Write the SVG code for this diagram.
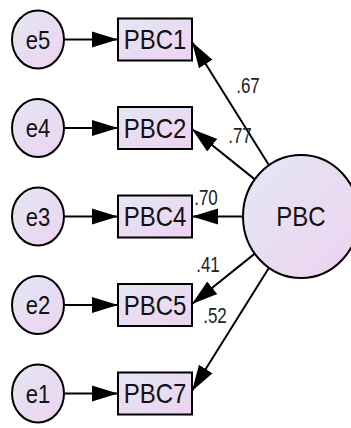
<svg xmlns="http://www.w3.org/2000/svg" width="351" height="428" viewBox="0 0 351 428">
  <defs>
    <linearGradient id="fillGrad" x1="0" y1="0" x2="1" y2="1">
      <stop offset="0" stop-color="#e4e7f4"/>
      <stop offset="1" stop-color="#edd2f0"/>
    </linearGradient>
    <marker id="head" viewBox="0 -9 28 18" markerWidth="28" markerHeight="18" refX="26" refY="0" orient="auto" markerUnits="userSpaceOnUse">
      <path d="M0,-8 L26,0 L0,8 z" fill="#000"/>
    </marker>
    <style>
      .node { fill: url(#fillGrad); stroke: #000; stroke-width: 2; }
      .lbl { font-family: "Liberation Sans", Arial, sans-serif; fill: #111; text-anchor: middle; }
      .big { font-size: 24px; }
      .err { font-size: 22px; }
      .coef { font-size: 17px; fill: #222; }
      .edge { stroke: #000; stroke-width: 2; fill: none; marker-end: url(#head); }
    </style>
  </defs>
  <rect width="351" height="428" fill="#fff"/>

  <!-- connectors: error terms to indicators, factor to indicators -->
  <g id="connectors">
    <line class="edge" x1="64" y1="39.5" x2="118" y2="39.5"/>
    <line class="edge" x1="64" y1="128" x2="118" y2="128"/>
    <line class="edge" x1="64" y1="216.5" x2="118" y2="216.5"/>
    <line class="edge" x1="64" y1="305" x2="118" y2="305"/>
    <line class="edge" x1="64" y1="393.5" x2="118" y2="393.5"/>

    <line class="edge" x1="269" y1="165.2" x2="192" y2="42"/>
    <line class="edge" x1="254.8" y1="179.4" x2="192" y2="129"/>
    <line class="edge" x1="243" y1="216.5" x2="192" y2="216.5"/>
    <line class="edge" x1="254.8" y1="253.6" x2="192" y2="304"/>
    <line class="edge" x1="269" y1="267.8" x2="192" y2="391"/>

    <text class="lbl coef" transform="translate(248,93) scale(1,1.25)">.67</text>
    <text class="lbl coef" transform="translate(240,143) scale(1,1.25)">.77</text>
    <text class="lbl coef" transform="translate(206,205) scale(1,1.25)">.70</text>
    <text class="lbl coef" transform="translate(208,272) scale(1,1.25)">.41</text>
    <text class="lbl coef" transform="translate(215,323) scale(1,1.25)">.52</text>
  </g>

  <!-- error terms -->
  <g id="e5">
    <ellipse class="node" cx="38" cy="39.5" rx="26" ry="29"/>
    <text class="lbl err" transform="translate(38,48.5) scale(1,1.13)">e5</text>
  </g>
  <g id="e4">
    <ellipse class="node" cx="38" cy="128" rx="26" ry="29"/>
    <text class="lbl err" transform="translate(38,137) scale(1,1.13)">e4</text>
  </g>
  <g id="e3">
    <ellipse class="node" cx="38" cy="216.5" rx="26" ry="29"/>
    <text class="lbl err" transform="translate(38,225.5) scale(1,1.13)">e3</text>
  </g>
  <g id="e2">
    <ellipse class="node" cx="38" cy="305" rx="26" ry="29"/>
    <text class="lbl err" transform="translate(38,314) scale(1,1.13)">e2</text>
  </g>
  <g id="e1">
    <ellipse class="node" cx="38" cy="393.5" rx="26" ry="29"/>
    <text class="lbl err" transform="translate(38,402.5) scale(1,1.13)">e1</text>
  </g>

  <!-- observed indicators -->
  <g id="PBC1">
    <rect class="node" x="118" y="18.5" width="74" height="42"/>
    <text class="lbl big" transform="translate(155,49) scale(1,1.13)">PBC1</text>
  </g>
  <g id="PBC2">
    <rect class="node" x="118" y="107" width="74" height="42"/>
    <text class="lbl big" transform="translate(155,137.5) scale(1,1.13)">PBC2</text>
  </g>
  <g id="PBC4">
    <rect class="node" x="118" y="195.5" width="74" height="42"/>
    <text class="lbl big" transform="translate(155,226) scale(1,1.13)">PBC4</text>
  </g>
  <g id="PBC5">
    <rect class="node" x="118" y="284" width="74" height="42"/>
    <text class="lbl big" transform="translate(155,314.5) scale(1,1.13)">PBC5</text>
  </g>
  <g id="PBC7">
    <rect class="node" x="118" y="372.5" width="74" height="42"/>
    <text class="lbl big" transform="translate(155,403) scale(1,1.13)">PBC7</text>
  </g>

  <!-- latent factor -->
  <g id="PBC">
    <ellipse class="node" cx="301" cy="216.5" rx="58" ry="61.5"/>
    <text class="lbl big" transform="translate(301,226) scale(1,1.13)">PBC</text>
  </g>
</svg>
